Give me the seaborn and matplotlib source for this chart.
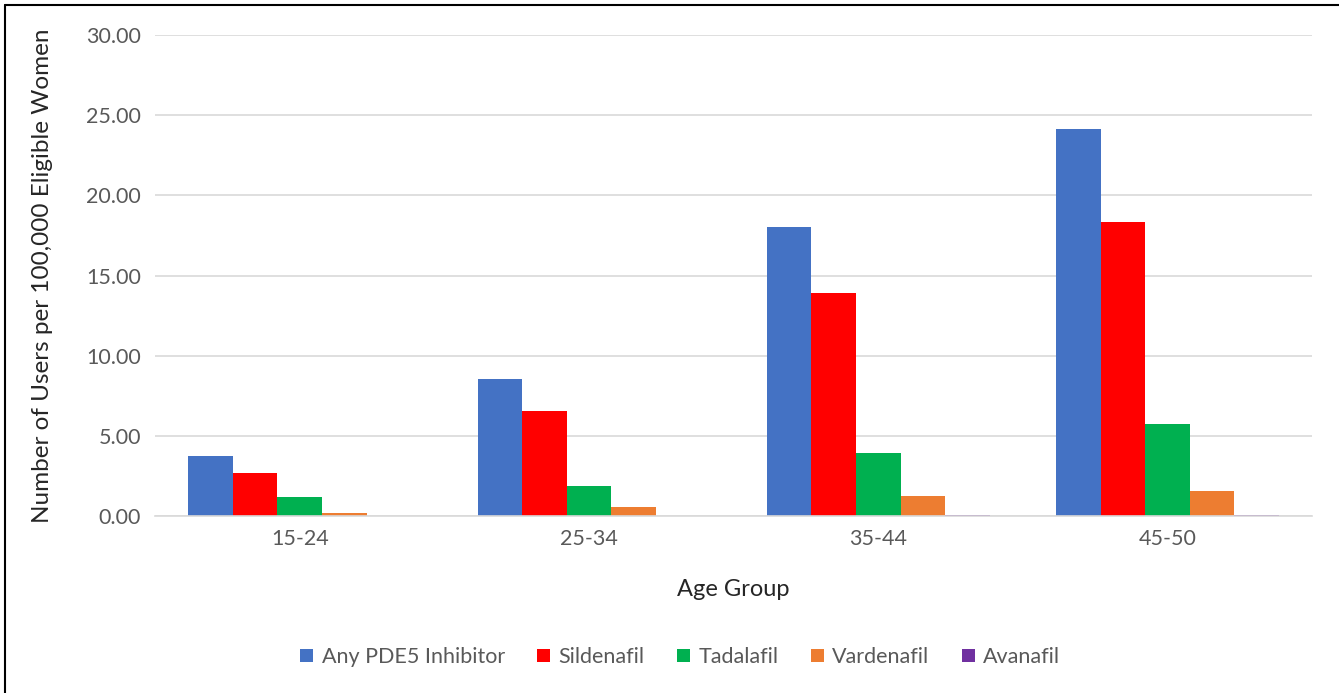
import pandas as pd
import seaborn as sns
import matplotlib.pyplot as plt
from matplotlib.lines import Line2D

# values
age_groups = ["15-24", "25-34", "35-44", "45-50"]
drugs = ["Any PDE5 Inhibitor", "Sildenafil", "Tadalafil", "Vardenafil", "Avanafil"]
any_pde5 = [3.77, 8.53, 18.03, 24.15]
sildenafil = [2.70, 6.53, 13.90, 18.33]
tadalafil = [1.17, 1.90, 3.92, 5.71]
vardenafil = [0.21, 0.58, 1.23, 1.54]
avanafil = [0.00, 0.03, 0.04, 0.04]
colors = ["#4472C4", "#FF0000", "#00B050", "#ED7D31", "#7030A0"]

series = [any_pde5, sildenafil, tadalafil, vardenafil, avanafil]
rows = []
for drug, vals in zip(drugs, series):
    for age, v in zip(age_groups, vals):
        rows.append({"age": age, "drug": drug, "value": v})
df = pd.DataFrame(rows)

sns.set_style("white")
plt.rcParams["font.family"] = ["Lato", "DejaVu Sans"]

fig = plt.figure(figsize=(13.39, 6.93), dpi=100)
ax = fig.add_axes([0.1158, 0.2554, 0.8642, 0.6941])

sns.barplot(data=df, x="age", y="value", hue="drug", hue_order=drugs,
            palette=colors, saturation=1, width=0.77, edgecolor="none",
            ax=ax, legend=True)

ax.set_ylim(0, 30)
ax.set_yticks(range(0, 31, 5))
ax.set_yticklabels([f"{t:.2f}" for t in range(0, 31, 5)])
ax.yaxis.grid(True, color="#d9d9d9", linewidth=1.2)
ax.set_axisbelow(True)
for s in ["top", "right", "left"]:
    ax.spines[s].set_visible(False)
ax.spines["bottom"].set_color("#d9d9d9")
ax.spines["bottom"].set_linewidth(1.2)
ax.tick_params(axis="both", length=0, labelsize=15.5, labelcolor="#595959")
ax.tick_params(axis="y", pad=10)
ax.tick_params(axis="x", pad=9)

ax.set_xlabel("Age Group", fontsize=17, labelpad=22)
ax.set_ylabel("Number of Users per 100,000 Eligible Women", fontsize=17.5, labelpad=24)

handles, labels = ax.get_legend_handles_labels()
ax.get_legend().remove()
fig.legend(handles, labels, loc="center", bbox_to_anchor=(0.508, 0.052), ncol=5,
           frameon=False, fontsize=15.5, handlelength=0.6, handleheight=0.6,
           handletextpad=0.4, columnspacing=1.5, labelcolor="#595959")

# chart frame (left and top edges visible in the reference)
fig.add_artist(Line2D([0.004, 0.004], [0.0, 0.993], color="black", linewidth=1.5,
                      transform=fig.transFigure))
fig.add_artist(Line2D([0.004, 1.0], [0.993, 0.993], color="black", linewidth=1.5,
                      transform=fig.transFigure))

fig.savefig("out.png", dpi=100)
